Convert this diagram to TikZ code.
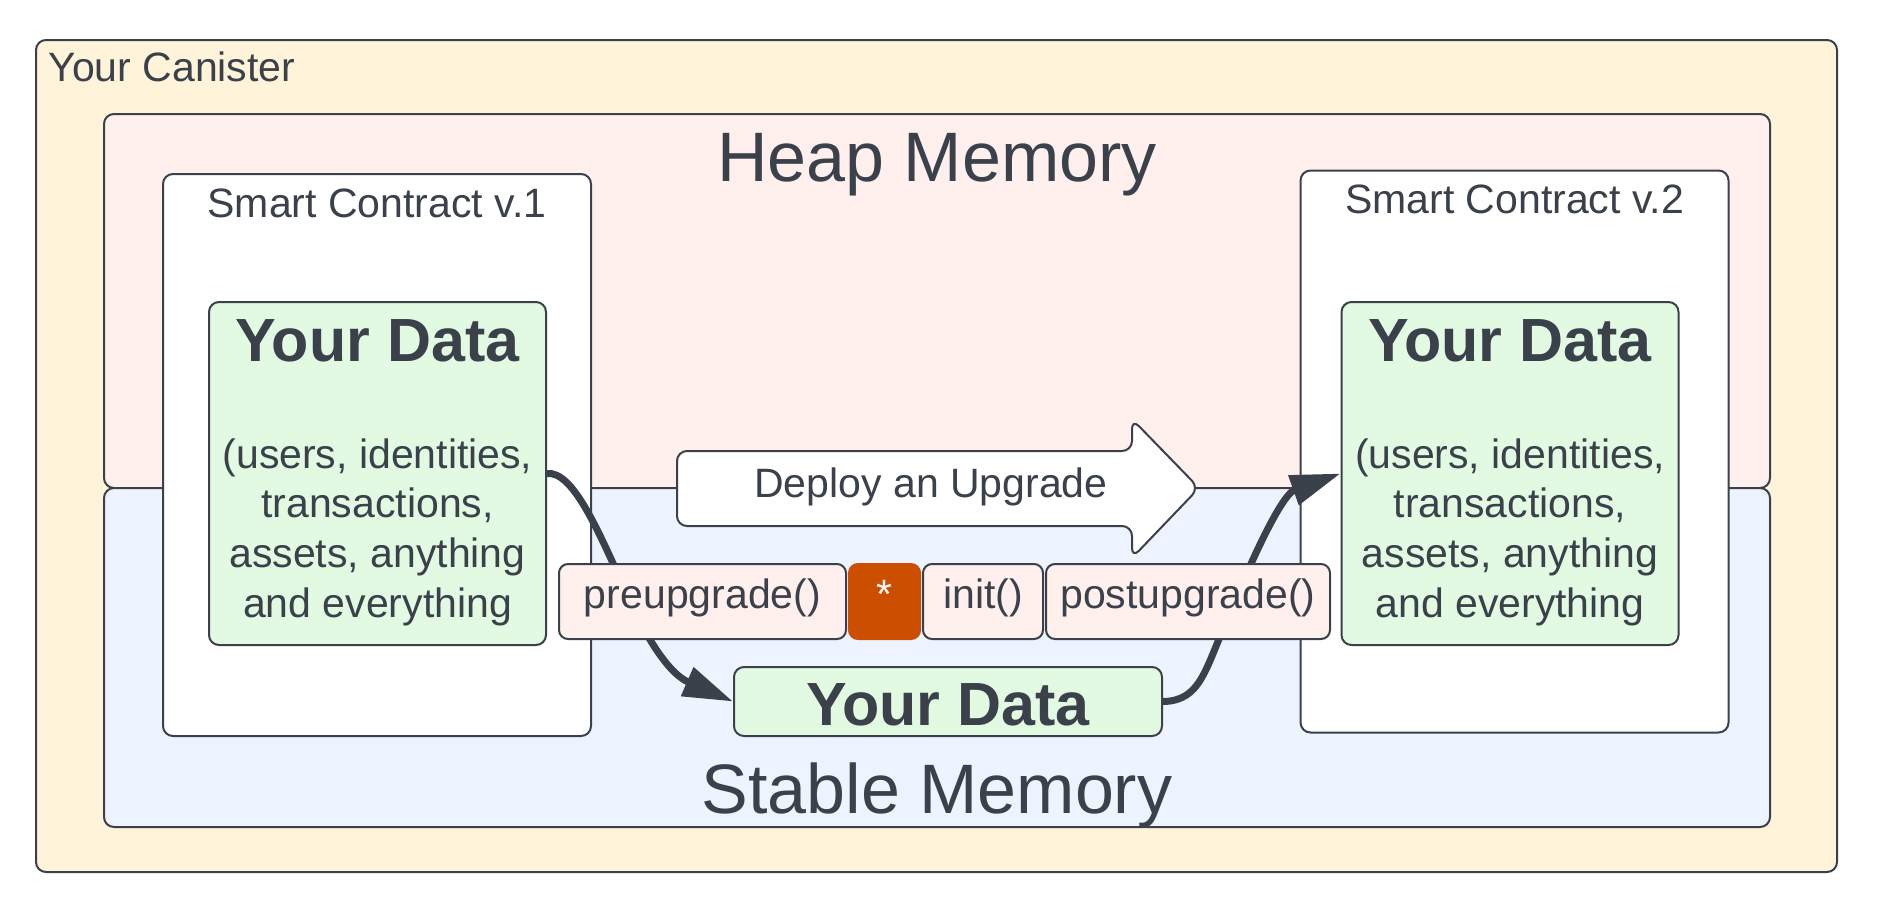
\documentclass[tikz,border=0pt]{standalone}
\usepackage{fontspec}
\setmainfont{Liberation Sans}
\usepackage{tikz}
\usetikzlibrary{arrows.meta,positioning}
\definecolor{ink}{HTML}{3A414A}
\definecolor{canfill}{HTML}{FFF3D9}
\definecolor{heapfill}{HTML}{FFEFED}
\definecolor{stabfill}{HTML}{EDF4FF}
\definecolor{datafill}{HTML}{E2FAE2}
\definecolor{starfill}{HTML}{CC4E00}
\newcommand{\regfont}{\fontsize{20.5}{25}\selectfont}
\newcommand{\bigfont}{\fontsize{35}{42}\selectfont}
\newcommand{\datafont}{\fontsize{30.5}{36}\selectfont\bfseries}
\tikzstyle{box}      = [draw=ink, line width=1pt, rounded corners=5pt, inner sep=0pt]
\tikzstyle{canister} = [box, fill=canfill, minimum width=900.5pt, minimum height=416pt]
\tikzstyle{memory}   = [box, minimum width=833pt]
\tikzstyle{contract} = [box, fill=white, minimum width=214pt, minimum height=281pt]
\tikzstyle{datab}    = [box, fill=datafill, minimum width=168.5pt, minimum height=171.5pt]
\tikzstyle{func}     = [box, fill=heapfill, minimum height=37.5pt, rounded corners=4.5pt]
\tikzstyle{lbl}      = [inner sep=0pt, text=ink, anchor=base]
\tikzstyle{route}    = [draw=ink, line width=3.5pt, -{Triangle[length=25pt,width=15pt]}]

\begin{document}
\begin{tikzpicture}[x=0.5pt, y=-0.5pt]
	\useasboundingbox (0,0) rectangle (1877,921);

	%%%%% Canister and memories
	\node[canister] (can) at (936.5,456) {};
	\node[memory, fill=heapfill, minimum height=187pt] (heap) at (937,301) {};
	\node[memory, fill=stabfill, minimum height=169.5pt] (stable) at (937,657.5) {};
	\node[lbl, anchor=base west, font=\regfont] (canlbl) at (48,81) {Your Canister};
	\node[lbl, font=\bigfont] (heaplbl) at (937,181) {Heap Memory};
	\node[lbl, font=\bigfont] (stablbl) at (937,813) {Stable Memory};

	%%%%% Smart contracts
	\node[contract] (sc1) at (377,455) {};
	\node[contract] (sc2) at (1514.5,451.5) {};
	\node[lbl, font=\regfont] (sc1lbl) at (377,217) {Smart Contract v.1};
	\node[lbl, font=\regfont] (sc2lbl) at (1514.5,213) {Smart Contract v.2};

	%%%%% Data boxes
	\node[datab] (yd1) at (377.5,473.5) {};
	\node[datab] (yd3) at (1510,473.5) {};
	\foreach \bx/\nm in {377.5/a, 1510/b}{
		\node[lbl, font=\datafont] (title\nm) at (\bx,361) {Your Data};
		\foreach \i/\txt in {0/{(users, identities,}, 1/{transactions,}, 2/{assets, anything}, 3/{and everything}}
		\node[lbl, font=\regfont] (body\nm\i) at (\bx,468+49.7*\i) {\txt};
	}

	%%%%% Upgrade arrow
	\draw[box, fill=white] (677,451) -- (1132,451) -- (1132,419) -- (1199,488) -- (1132,558) -- (1132,526) -- (677,526) -- cycle;
	\node[lbl, font=\regfont] (deploy) at (931,497) {Deploy an Upgrade};

	%%%%% Stable copy
	\node[box, fill=datafill, minimum width=214pt, minimum height=34.5pt] (yd2) at (948,701.5) {};
	\node[lbl, font=\datafont] (titlec) at (948,725) {Your Data};

	%%%% Routes
	\draw[route] (yd1.east) .. controls (572,471) and (596,525) .. (625,590) .. controls (640,625) and (665,672) .. (yd2.west);
	\draw[route] (yd2.east) .. controls (1200,701) and (1205,670) .. (1225,625) .. controls (1245,575) and (1280,495) .. (yd3.west);

	%%%%% Hooks
	\node[func, minimum width=143.5pt] (pre) at (702.5,601.5) {};
	\node[func, fill=starfill, draw=starfill, minimum width=35.5pt, right=0.5pt of pre] (star) {};
	\node[func, minimum width=60pt, right=0.5pt of star] (init) {};
	\node[func, minimum width=142pt, right=0.5pt of init] (post) {};
	\foreach \name/\txt in {pre/preupgrade(), init/init(), post/postupgrade()}
	\node[lbl, font=\regfont] (\name lbl) at (\name.center |- 0,608) {\txt};
	\node[lbl, font=\regfont, text=white] (starlbl) at (star.center |- 0,608) {*};
\end{tikzpicture}
\end{document}
